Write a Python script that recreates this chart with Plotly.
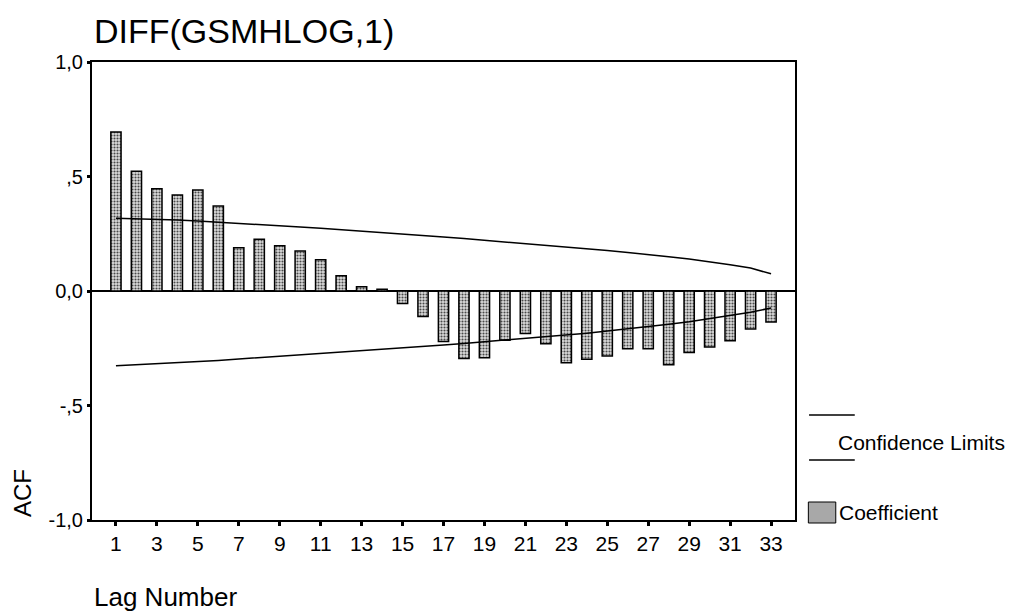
import plotly.graph_objects as go

lags = list(range(1, 34))
acf = [0.694, 0.523, 0.447, 0.419, 0.441, 0.371, 0.189, 0.226, 0.198, 0.175,
       0.137, 0.067, 0.019, 0.008, -0.055, -0.111, -0.220, -0.295, -0.291, -0.215,
       -0.186, -0.230, -0.313, -0.298, -0.284, -0.252, -0.252, -0.322, -0.269, -0.245,
       -0.217, -0.166, -0.135]
upper_conf = [0.318, 0.316, 0.313, 0.310, 0.306, 0.300, 0.294, 0.289, 0.284, 0.279,
              0.274, 0.268, 0.262, 0.257, 0.250, 0.243, 0.236, 0.229, 0.222, 0.215,
              0.208, 0.200, 0.193, 0.186, 0.177, 0.168, 0.160, 0.150, 0.140, 0.128,
              0.115, 0.100, 0.075]
lower_conf = [-0.326, -0.322, -0.318, -0.314, -0.309, -0.303, -0.297, -0.291, -0.286, -0.280,
              -0.274, -0.268, -0.262, -0.257, -0.250, -0.243, -0.236, -0.229, -0.222, -0.215,
              -0.208, -0.200, -0.191, -0.184, -0.175, -0.166, -0.157, -0.145, -0.134, -0.120,
              -0.108, -0.093, -0.074]
y_tickvals = [-1.0, -0.5, 0.0, 0.5, 1.0]
y_ticktext = ["-1,0", "-,5", "0,0", ",5", "1,0"]
x_tickvals = list(range(1, 34, 2))
x_ticktext = [str(v) for v in x_tickvals]

FONT = "Arial, Liberation Sans, sans-serif"

fig = go.Figure()
fig.add_trace(go.Bar(
    x=lags, y=acf, width=0.5, name="Coefficient",
    marker=dict(color="#c4c4c4", line=dict(color="black", width=1.5),
                pattern=dict(shape=".", fgcolor="#4a4a4a", bgcolor="#dcdcdc",
                             size=3, solidity=0.4, fillmode="replace")),
    showlegend=False,
))
fig.add_trace(go.Scatter(x=lags, y=upper_conf, mode="lines",
                         line=dict(color="black", width=1.5), showlegend=False))
fig.add_trace(go.Scatter(x=lags, y=lower_conf, mode="lines",
                         line=dict(color="black", width=1.5), showlegend=False))

fig.update_layout(
    width=1013, height=613,
    margin=dict(l=92, r=218, t=62, b=93),
    paper_bgcolor="white", plot_bgcolor="white",
    font=dict(family=FONT, color="black"),
    xaxis=dict(range=[-0.17, 34.17], tickvals=x_tickvals, ticktext=x_ticktext,
               ticks="outside", ticklen=4, tickwidth=3, tickcolor="black",
               showline=True, linecolor="black", linewidth=2, mirror=True,
               showgrid=False, zeroline=False, tickfont=dict(size=21, family=FONT)),
    yaxis=dict(range=[-1.0, 1.0], tickvals=y_tickvals, ticktext=y_ticktext,
               ticks="outside", ticklen=3, tickwidth=3, tickcolor="black",
               showline=True, linecolor="black", linewidth=2, mirror=True,
               showgrid=False, zeroline=True, zerolinecolor="black", zerolinewidth=2,
               tickfont=dict(size=20, family=FONT)),
    annotations=[
        dict(text="DIFF(GSMHLOG,1)", xref="paper", yref="paper", x=0, y=1,
             xshift=0, yshift=10, xanchor="left", yanchor="bottom", showarrow=False,
             font=dict(size=34, family=FONT)),
        dict(text="Lag Number", xref="paper", yref="paper", x=0, y=0,
             xanchor="left", yanchor="middle", yshift=-77, xshift=0, showarrow=False,
             font=dict(size=26, family=FONT)),
        dict(text="ACF", xref="paper", yref="paper", x=0, y=0, textangle=-90,
             xanchor="center", yanchor="middle", xshift=-70, yshift=27, showarrow=False,
             font=dict(size=24, family=FONT)),
        dict(text="Confidence Limits", xref="paper", yref="paper", x=1, y=0,
             xanchor="left", yanchor="middle", xshift=41, yshift=78, showarrow=False,
             font=dict(size=21, family=FONT)),
        dict(text="Coefficient", xref="paper", yref="paper", x=1, y=0,
             xanchor="left", yanchor="middle", xshift=42, yshift=8, showarrow=False,
             font=dict(size=21, family=FONT)),
    ],
    shapes=[
        dict(type="line", xref="paper", yref="paper", x0=1.02, x1=1.085,
             y0=(520 - 415) / 458, y1=(520 - 415) / 458, line=dict(color="black", width=1.5)),
        dict(type="line", xref="paper", yref="paper", x0=1.02, x1=1.085,
             y0=(520 - 460) / 458, y1=(520 - 460) / 458, line=dict(color="black", width=1.5)),
        dict(type="rect", xref="paper", yref="paper", x0=1.019, x1=1.058,
             y0=(520 - 523) / 458, y1=(520 - 502) / 458,
             fillcolor="#a8a8a8", line=dict(color="black", width=1)),
    ],
)

fig.write_html("out.html")
